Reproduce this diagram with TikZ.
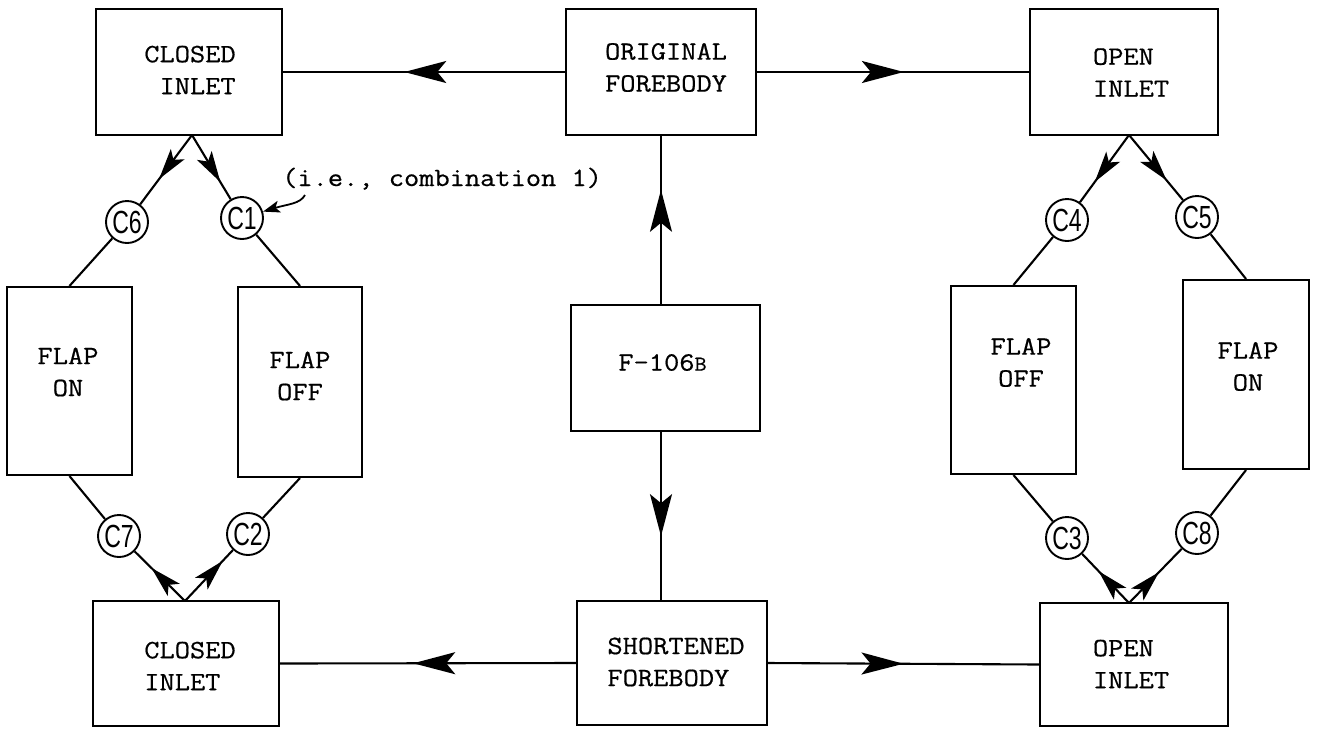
\documentclass[tikz,border=0pt]{standalone}
\usepackage{fontspec}
\setmainfont{Latin Modern Mono}[FakeStretch=1.12,FakeBold=0.6]
\setsansfont{Liberation Sans}
\usepackage{graphicx}
\usetikzlibrary{arrows.meta,decorations.markings,calc}
\tikzset{
  bighead/.tip={Stealth[length=42pt,width=22pt,inset=9pt]},
  smallhead/.tip={Stealth[length=31pt,width=17pt,inset=7pt]},
  leadhead/.tip={Stealth[length=17pt,width=12pt,inset=4pt]},
  box/.style={draw, line width=2.1pt, inner sep=0pt, rectangle},
  lbl/.style={font=\fontsize{26.4}{32}\selectfont, inner sep=0pt},
  cnode/.style={draw, circle, line width=1.9pt, minimum size=42pt, inner sep=0pt, font=\fontsize{32}{32}\sffamily},
  conn/.style={line width=2.1pt},
  midbig/.style={postaction={decorate},decoration={markings,mark=at position #1 with {\arrow{bighead}}}},
  midsmall/.style={postaction={decorate},decoration={markings,mark=at position #1 with {\arrow{smallhead}}}},
}
\newcommand{\cl}[1]{\scalebox{0.72}[1]{#1}}
\begin{document}
\begin{tikzpicture}[x=1pt,y=-1pt]
\useasboundingbox[fill=white] (0,0) rectangle (1319,729);

% boxes
\node[box, minimum width=186pt, minimum height=126pt] (ciT) at (189,72) {};
\node[box, minimum width=190pt, minimum height=126pt] (of) at (661,72) {};
\node[box, minimum width=188pt, minimum height=126pt] (oiT) at (1124,72) {};
\node[box, minimum width=189pt, minimum height=126pt] (f106) at (665.5,368) {};
\node[box, minimum width=190pt, minimum height=124pt] (sf) at (672,663) {};
\node[box, minimum width=186pt, minimum height=125pt] (ciB) at (186,663.5) {};
\node[box, minimum width=188pt, minimum height=123pt] (oiB) at (1134,664.5) {};
\node[box, minimum width=125pt, minimum height=188pt] (flonL) at (69.5,381) {};
\node[box, minimum width=124pt, minimum height=190pt] (floffL) at (300,382) {};
\node[box, minimum width=125pt, minimum height=188pt] (floffR) at (1013.5,380) {};
\node[box, minimum width=126pt, minimum height=189pt] (flonR) at (1246,374.5) {};

% box texts
\node[lbl, align=right] (ciTt) at (190,70) {CLOSED\\INLET};
\node[lbl, align=left] (oft) at (666,67.5) {ORIGINAL\\FOREBODY};
\node[lbl, align=left] (oiTt) at (1131,72.5) {OPEN\\INLET};
\node[lbl] (f106t) at (662.5,362.5) {F-106{\fontsize{21}{21}\selectfont B}};
\node[lbl, align=left] (sft) at (676,662) {SHORTENED\\FOREBODY};
\node[lbl, align=left] (ciBt) at (190,666) {CLOSED\\INLET};
\node[lbl, align=left] (oiBt) at (1131,664) {OPEN\\INLET};
\node[lbl, align=center] (flonLt) at (68,372) {FLAP\\ON};
\node[lbl, align=center] (floffLt) at (300,376) {FLAP\\OFF};
\node[lbl, align=center] (floffRt) at (1021,362.5) {FLAP\\OFF};
\node[lbl, align=center] (flonRt) at (1248,366.5) {FLAP\\ON};

% circles
\node[cnode] (c6) at (127,222) {\cl{C6}};
\node[cnode] (c1) at (242,218) {\cl{C1}};
\node[cnode] (c7) at (119,536) {\cl{C7}};
\node[cnode] (c2) at (248,534) {\cl{C2}};
\node[cnode] (c4) at (1067,220) {\cl{C4}};
\node[cnode] (c5) at (1197,217) {\cl{C5}};
\node[cnode] (c3) at (1067,538) {\cl{C3}};
\node[cnode] (c8) at (1197,533) {\cl{C8}};

% apex points
\coordinate (aTL) at (192,135);
\coordinate (aBL) at (185,601);
\coordinate (aTR) at (1129,135);
\coordinate (aBR) at (1129,603);

% main horizontal / vertical connectors
\draw[conn, midbig=0.57] (of.west) -- (ciT.east);
\draw[conn, midbig=0.54] (of.east) -- (oiT.west);
\draw[conn, midbig=0.68] (f106.north -| of.south) -- (of.south);
\draw[conn, midbig=0.62] (f106.south -| of.south) -- (sf.north -| of.south);
\draw[conn, midbig=0.55] (sf.west) -- (ciB.east);
\draw[conn, midbig=0.50] (sf.east) -- (oiB.west);

% diamonds left
\draw[conn, midsmall=55pt] (aTL) -- (c6);
\draw[conn, midsmall=55pt] (aTL) -- (c1);
\draw[conn] (c6) -- (flonL.north);
\draw[conn] (c1) -- (floffL.north);
\draw[conn] (flonL.south) -- (c7);
\draw[conn] (floffL.south) -- (c2);
\draw[conn, midsmall=47pt] (aBL) -- (c7);
\draw[conn, midsmall=55pt] (aBL) -- (c2);

% diamonds right
\draw[conn, midsmall=58pt] (aTR) -- (c4);
\draw[conn, midsmall=59pt] (aTR) -- (c5);
\draw[conn] (c4) -- (floffR.north);
\draw[conn] (c5) -- (flonR.north);
\draw[conn] (floffR.south) -- (c3);
\draw[conn] (flonR.south) -- (c8);
\draw[conn, midsmall=44pt] (aBR) -- (c3);
\draw[conn, midsmall=43pt] (aBR) -- (c8);

% annotation
\node[lbl, anchor=base west] (note) at (282,186) {(i.e., combination 1)};
\coordinate (lead) at (305,195);
\draw[conn, line width=1.8pt, -{leadhead}] (lead) .. controls (300,204) and (288,204) .. (c1);
\end{tikzpicture}
\end{document}
